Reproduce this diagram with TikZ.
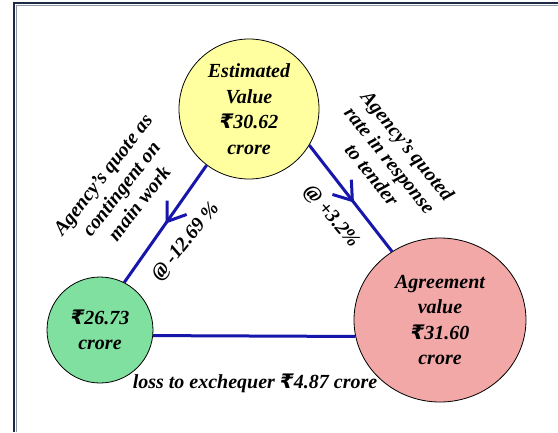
\documentclass[tikz,border=0pt]{standalone}
\usepackage{fontspec}
\setmainfont{Liberation Serif}[BoldItalicFont={Liberation Serif Bold Italic}]
\newfontfamily\rupeefont{DejaVu Sans}
\newcommand\rupee{{\rupeefont\symbol{"20B9}}}
\usetikzlibrary{shapes.geometric,decorations.markings}
\definecolor{lineblue}{RGB}{22,22,172}
\definecolor{circyellow}{RGB}{255,255,160}
\definecolor{circgreen}{RGB}{128,224,160}
\definecolor{circpink}{RGB}{243,168,168}
\definecolor{framenavy}{RGB}{28,42,70}
\definecolor{framegray}{RGB}{140,152,168}
\begin{document}
\begin{tikzpicture}[x=1pt,y=-1pt,
  lbl/.style={font=\fontsize{20}{23}\selectfont\bfseries\itshape, align=center, inner sep=0pt},
  val/.style={draw=black, line width=0.8pt, circle, inner sep=0pt,
    font=\fontsize{20}{25.5}\selectfont\bfseries\itshape, align=center},
  link/.style={draw=lineblue, line width=3pt},
  midarrow/.style={postaction={decorate}, decoration={markings,
    mark=at position #1 with {\draw[lineblue, line width=3pt, line join=miter]
      (-17pt,12pt) -- (0pt,0pt) -- (-17pt,-12pt);}}}
]
\useasboundingbox (0,0) rectangle (558,432);
\fill[white] (0,0) rectangle (558,432);
\draw[framenavy, line width=2.2pt] (14,432) -- (14,3) -- (558,3);
\draw[framegray, line width=1.5pt] (16.6,432) -- (16.6,5.6) -- (558,5.6);

\node[val, fill=circyellow, minimum size=140pt] (Y) at (249,109) {Estimated\\Value\\\rupee30.62\\crore};
\node[val, fill=circgreen, minimum size=106pt] (G) at (100,330) {\rupee26.73\\crore};
\node[val, ellipse, fill=circpink, minimum width=172pt, minimum height=164pt] (P) at (440,320) {Agreement\\value\\\rupee31.60\\crore};

\draw[link, midarrow=0.48] (Y.233) -- (G.63);
\draw[link, midarrow=0.52] (Y.-31) -- (P.125);
\draw[link] (G.-6) -- (P.191);

\node[lbl, rotate=52] (Lq) at (121,189) {Agency's quote as\\contingent on\\main work};
\node[lbl, rotate=51] (Lm) at (186,242) {@ -12.69 \%};
\node[lbl, rotate=-51] (Rq) at (390,160) {Agency's quoted\\rate in response\\to tender};
\node[lbl, rotate=-50] (Rp) at (331,217) {@ +3.2\%};
\node[lbl] (loss) at (255,383) {loss to exchequer \rupee4.87 crore};
\end{tikzpicture}
\end{document}
